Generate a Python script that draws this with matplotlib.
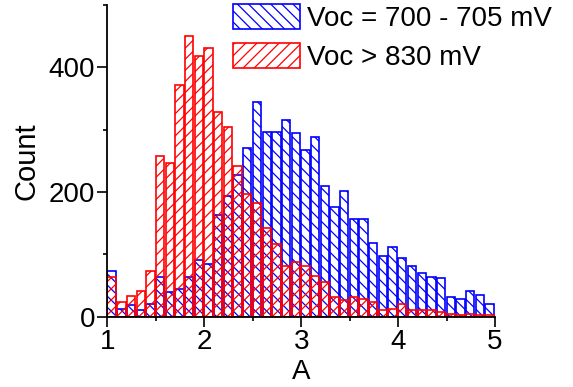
import numpy as np
import matplotlib.pyplot as plt
from matplotlib.ticker import MultipleLocator

plt.rcParams['font.family'] = ['Liberation Sans', 'DejaVu Sans']
plt.rcParams['hatch.linewidth'] = 0.9

bin_left = np.round(np.arange(1.0, 5.0, 0.1), 2)

blue_counts = [74, 12, 19, 11, 21, 63, 39, 44, 63, 91,
               84, 163, 194, 227, 270, 345, 297, 297, 316, 294,
               268, 289, 210, 176, 202, 156, 156, 118, 97, 112,
               94, 81, 70, 63, 62, 32, 28, 42, 34, 20]
red_counts = [63, 23, 33, 41, 73, 258, 247, 371, 450, 418,
              431, 329, 305, 241, 196, 183, 143, 116, 81, 87,
              81, 65, 56, 32, 26, 31, 28, 24, 11, 12,
              20, 10, 11, 10, 8, 5, 2, 4, 3, 2]

labels = ["Voc = 700 - 705 mV", "Voc > 830 mV"]

fig = plt.figure(figsize=(5.73, 3.87), dpi=100)
ax = fig.add_axes([0.1876, 0.1817, 0.6763, 0.8054])

ax.bar(bin_left, blue_counts, width=0.086, align='edge', fill=False,
       edgecolor='#0000ff', hatch='\\\\\\', linewidth=1.2, label=labels[0])
ax.bar(bin_left, red_counts, width=0.086, align='edge', fill=False,
       edgecolor='#ff0000', hatch='///', linewidth=1.2, label=labels[1])

ax.set_xlim(1, 5)
ax.set_ylim(0, 500)
ax.set_xticks([1, 2, 3, 4, 5])
ax.set_yticks([0, 200, 400])
ax.xaxis.set_minor_locator(MultipleLocator(0.5))
ax.yaxis.set_minor_locator(MultipleLocator(100))

for s in ['top', 'right']:
    ax.spines[s].set_visible(False)
for s in ['left', 'bottom']:
    ax.spines[s].set_linewidth(1.3)

ax.tick_params(which='major', length=7, width=1.2, labelsize=20, pad=2)
ax.tick_params(which='minor', length=3, width=1.2)

ax.set_xlabel("A", fontsize=20, labelpad=3)
ax.set_ylabel("Count", fontsize=21, labelpad=6)

ax.legend(loc='upper left', bbox_to_anchor=(0.4066, 0.99),
          bbox_transform=fig.transFigure, frameon=False, fontsize=20,
          borderpad=0, borderaxespad=0, handlelength=2.4, handleheight=1.0,
          handletextpad=0.25, labelspacing=0.4)

fig.savefig("out.png", dpi=100)
